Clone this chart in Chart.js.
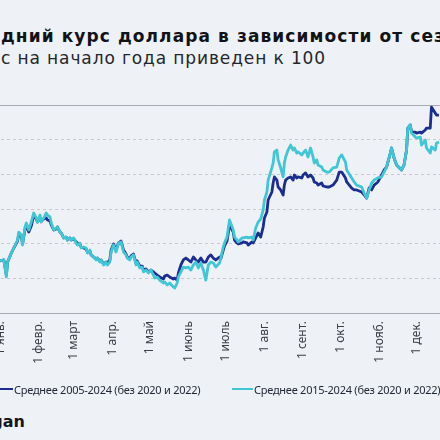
<!DOCTYPE html>
<html>
<head>
<meta charset="utf-8">
<script src="https://cdn.jsdelivr.net/npm/chart.js@4.4.0/dist/chart.umd.min.js"></script>
<style>
  html, body { margin: 0; padding: 0; width: 440px; height: 440px; overflow: hidden; background: #eef1f5; }
  body { position: relative; font-family: "DejaVu Sans", sans-serif; color: #111317; }
  .title { position: absolute; left: -36px; top: 26px; font-size: 17px; line-height: 20px; font-weight: 700; white-space: nowrap; }
  .sub { position: absolute; left: -33px; top: 48px; font-size: 17px; line-height: 20px; white-space: nowrap; color: #24272d; }
  #wrap { position: absolute; left: -60px; top: 95px; width: 560px; height: 300px; }
  .legend { position: absolute; top: 382px; height: 14px; display: flex; align-items: center; font: 11px "Noto Sans", sans-serif; color: #1e2633; white-space: nowrap; letter-spacing: -0.25px; }
  .legend i { display: inline-block; width: 21px; height: 2px; margin-right: 1px; }
  .logo { position: absolute; left: 0; top: 412px; font-size: 16px; line-height: 20px; font-weight: 700; color: #15171b; white-space: nowrap; }
</style>
</head>
<body>
<div class="title" id="title"><span id="titleCut">Сре</span><span id="titleSeen">дний курс доллара в зависимости от сез</span>она</div>
<div class="sub" id="sub"><span id="subCut">Кур</span><span id="subSeen">с на начало года приведен к 100</span></div>
<div id="wrap"><canvas id="chart" width="560" height="300"></canvas></div>
<div class="legend" style="left:-8px"><i style="background:#1b2d8f"></i>Среднее 2005-2024 (без 2020 и 2022)</div>
<div class="legend" style="left:232px"><i style="background:#3fc5d3"></i>Среднее 2015-2024 (без 2020 и 2022)</div>
<div class="logo" id="logo">gan</div>
<script>
// month ticks (day of year)
const monthStarts = [0, 31, 59, 90, 120, 151, 181, 212, 243, 273, 304, 334];
const monthLabels = ['1 янв.', '1 февр.', '1 март', '1 апр.', '1 май', '1 июнь', '1 июль', '1 авг.', '1 сент.', '1 окт.', '1 нояб.', '1 дек.'];

// day of year for every sample
const days = [
  0, 3, 5, 6, 9, 11, 14, 15, 17, 18,
  20, 21, 23, 25, 27, 29, 30, 32, 33, 35,
  37, 38, 40, 41, 43, 45, 46, 48, 49, 51,
  53, 54, 56, 57, 59, 61, 62, 64, 65, 67,
  69, 70, 72, 73, 75, 77, 78, 80, 81, 83,
  85, 86, 88, 89, 91, 93, 95, 97, 99, 101,
  102, 104, 105, 107, 109, 110, 112, 114, 115, 117,
  119, 121, 123, 124, 126, 128, 131, 132, 134, 136,
  139, 140, 142, 143, 145, 147, 149, 151, 153, 155,
  157, 159, 161, 163, 165, 167, 169, 171, 173, 176,
  177, 179, 180, 182, 184, 187, 188, 190, 191, 194,
  195, 198, 199, 202, 203, 205, 207, 209, 211, 212,
  214, 215, 218, 219, 220, 222, 223, 225, 227, 228,
  229, 231, 233, 235, 236, 238, 239, 242, 243, 245,
  247, 249, 251, 252, 254, 255, 258, 259, 262, 264,
  267, 270, 272, 274, 277, 278, 282, 284, 286, 290,
  292, 294, 296, 298, 300, 303, 306, 308, 310, 313,
  314, 316, 318, 322, 324, 326, 327, 329, 330, 333,
  334, 337, 338, 341, 342, 345, 346, 349, 350, 352
];

// average 2005-2024 (without 2020 and 2022), 1 Jan = 100
const avg0524 = [
  100.0, 100.06, 99.19, 99.94, 100.46, 100.75, 101.15, 101.56, 101.44, 100.98,
  101.85, 102.02, 101.67, 102.02, 102.65, 102.42, 102.25, 102.48, 102.31, 102.42,
  102.48, 102.37, 102.31, 102.08, 101.79, 101.85, 101.96, 101.67, 101.62, 101.33,
  101.38, 101.21, 101.33, 101.21, 101.27, 101.1, 101.04, 100.98, 100.81, 100.75,
  100.69, 100.52, 100.58, 100.35, 100.23, 100.12, 100.17, 100.0, 100.06, 99.83,
  99.94, 99.88, 100.06, 100.63, 100.98, 100.63, 101.04, 101.15, 100.63, 100.4,
  100.23, 100.12, 100.29, 100.4, 99.88, 100.0, 99.71, 99.71, 99.48, 99.54,
  99.37, 99.48, 99.37, 99.31, 99.19, 99.08, 98.96, 99.13, 99.19, 99.08,
  98.96, 99.02, 98.9, 99.31, 99.77, 100.06, 100.17, 100.06, 99.94, 100.23,
  100.06, 99.94, 100.17, 99.94, 99.94, 100.23, 100.35, 100.17, 100.06, 100.23,
  100.12, 100.63, 100.87, 101.15, 102.08, 101.67, 101.21, 101.04, 100.98, 101.04,
  101.1, 101.04, 100.92, 101.1, 101.04, 101.33, 101.62, 101.38, 101.96, 102.48,
  102.83, 103.52, 103.98, 104.5, 104.85, 104.67, 104.27, 104.1, 103.81, 104.38,
  104.67, 104.79, 104.85, 104.67, 104.96, 104.79, 104.85, 104.79, 104.96, 105.08,
  104.85, 104.96, 104.79, 104.56, 104.5, 104.38, 104.5, 104.33, 104.27, 104.27,
  104.38, 104.67, 105.13, 105.13, 104.79, 104.56, 104.21, 104.1, 104.1, 103.98,
  103.81, 103.63, 104.21, 104.1, 104.38, 104.56, 104.96, 105.25, 105.42, 106.23,
  106.52, 105.94, 105.54, 105.25, 105.54, 106.4, 107.67, 107.85, 107.44, 107.44,
  107.38, 107.44, 107.38, 107.56, 107.67, 107.67, 108.88, 108.54, 108.42, 108.42
];

// average 2015-2024 (without 2020 and 2022)
const avg1524 = [
  100.0, 100.06, 99.08, 99.94, 100.46, 100.75, 101.21, 101.67, 101.5, 100.92,
  101.96, 102.19, 101.79, 102.25, 102.77, 102.48, 102.25, 102.65, 102.25, 102.48,
  102.77, 102.65, 102.54, 102.19, 101.79, 101.9, 101.96, 101.67, 101.62, 101.33,
  101.38, 101.21, 101.33, 101.21, 101.33, 101.04, 100.92, 101.04, 100.75, 100.81,
  100.75, 100.46, 100.63, 100.35, 100.23, 100.06, 100.17, 99.94, 100.06, 99.77,
  99.94, 99.77, 99.94, 100.52, 100.92, 100.52, 101.04, 101.1, 100.52, 100.35,
  100.17, 100.06, 100.23, 100.35, 99.77, 99.94, 99.6, 99.65, 99.37, 99.48,
  99.31, 99.48, 99.19, 99.02, 99.08, 98.9, 98.73, 98.79, 98.62, 98.73,
  98.5, 98.44, 98.73, 99.08, 99.37, 99.65, 99.6, 99.65, 99.48, 99.77,
  99.94, 99.6, 99.88, 99.48, 98.9, 99.77, 99.94, 99.88, 99.65, 99.88,
  100.17, 100.81, 101.04, 101.38, 102.37, 101.79, 101.38, 101.21, 101.1, 101.33,
  101.33, 101.38, 101.33, 101.38, 101.21, 101.9, 102.25, 102.42, 102.94, 103.52,
  103.98, 104.67, 105.37, 105.65, 106.29, 106.4, 105.83, 105.37, 104.85, 105.65,
  106.0, 106.4, 106.69, 106.4, 106.52, 106.23, 106.29, 106.12, 106.23, 106.4,
  106.0, 106.52, 106.0, 105.65, 105.83, 105.54, 105.42, 105.25, 105.13, 105.13,
  105.37, 105.42, 105.94, 106.12, 105.71, 105.25, 104.79, 104.56, 104.38, 104.27,
  103.92, 103.63, 104.1, 104.5, 104.67, 104.79, 104.85, 105.13, 105.42, 106.23,
  106.52, 105.94, 105.54, 105.25, 105.54, 106.4, 107.67, 107.85, 107.38, 107.15,
  107.1, 107.15, 106.69, 106.98, 106.52, 106.23, 106.58, 106.4, 106.81, 106.87
];

// value axis (hidden labels)
const yMin = 97, yMax = 109, yStep = 2;

// where the crop puts the axis: 1 Jan at x=-1, 1.253 px per day, axis line at y=313
const JAN1_X = -1, PX_PER_DAY = 1.253, AXIS_Y = 313;
const WRAP_LEFT = -60, WRAP_TOP = 95;

// stretch the cropped heading lines to the width they have in the crop
function fitLine(lineId, cutId, seenId, startX, seenWidth) {
  const line = document.getElementById(lineId);
  const seen = document.getElementById(seenId);
  const n = seen.textContent.length;
  const ls = (seenWidth - seen.getBoundingClientRect().width) / n;
  line.style.letterSpacing = ls + 'px';
  line.style.left = (startX - document.getElementById(cutId).getBoundingClientRect().width) + 'px';
}
fitLine('title', 'titleCut', 'titleSeen', 1, 444);
fitLine('sub', 'subCut', 'subSeen', 1, 325);
const logo = document.getElementById('logo');
logo.style.left = (25 - logo.getBoundingClientRect().width) + 'px';

const toPoints = vals => days.map((d, i) => ({ x: d, y: vals[i] }));

const ctx = document.getElementById('chart').getContext('2d');
const chart = new Chart(ctx, {
  type: 'line',
  data: {
    datasets: [
      { label: 'Среднее 2005-2024 (без 2020 и 2022)', data: toPoints(avg0524), borderColor: '#1b2d8f', order: 1 },
      { label: 'Среднее 2015-2024 (без 2020 и 2022)', data: toPoints(avg1524), borderColor: '#40c6d4', order: 0 }
    ]
  },
  options: {
    responsive: false,
    animation: false,
    layout: { padding: { top: 10, bottom: 0, left: 0, right: 0 } },
    elements: {
      line: { borderWidth: 2.8, tension: 0, borderJoinStyle: 'round' },
      point: { radius: 0 }
    },
    plugins: { legend: { display: false }, tooltip: { enabled: false } },
    scales: {
      x: {
        type: 'linear',
        min: -47,
        max: 400,
        afterBuildTicks: s => { s.ticks = monthStarts.map(v => ({ value: v })); },
        grid: { display: false, drawTicks: false },
        border: { display: true, color: '#a7abb1', width: 1 },
        ticks: {
          autoSkip: false,
          maxRotation: 90,
          minRotation: 90,
          padding: 8,
          color: '#3b3e44',
          font: { family: 'Noto Sans', size: 12 },
          callback: (v, i) => monthLabels[i]
        }
      },
      y: {
        min: yMin,
        max: yMax,
        ticks: { stepSize: yStep, display: false },
        grid: {
          drawTicks: false,
          lineWidth: 1,
          color: c => (c.tick && c.tick.value === yMax) ? '#a7abb1' : '#c6cad0'
        },
        border: {
          display: false,
          dash: c => (c.tick && c.tick.value === yMax) ? [] : [3, 3]
        }
      }
    }
  }
});

// fit the day scale and axis line to the cropped frame
const a = chart.chartArea;
chart.options.scales.x.min = (WRAP_LEFT + a.left - JAN1_X) / PX_PER_DAY;
chart.options.scales.x.max = (WRAP_LEFT + a.right - JAN1_X) / PX_PER_DAY;
chart.options.layout.padding.bottom = a.bottom - (AXIS_Y - WRAP_TOP);
chart.update();
</script>
</body>
</html>
